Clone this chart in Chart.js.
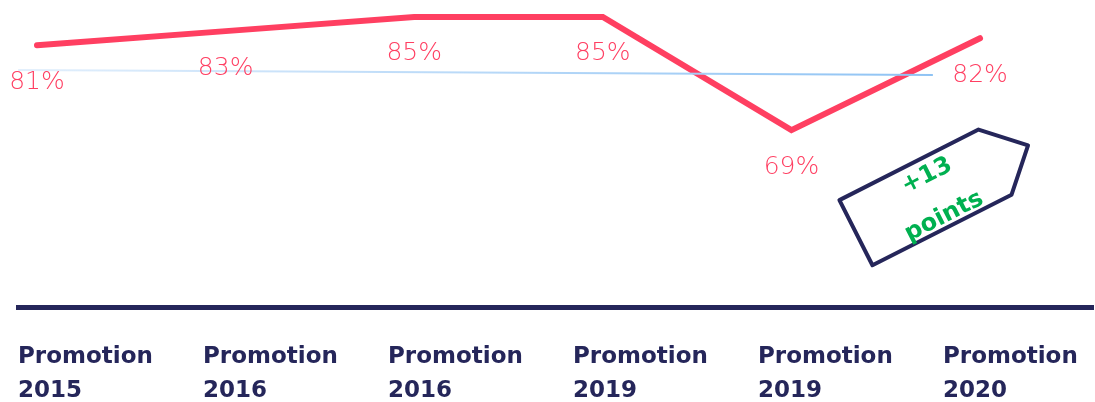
<!DOCTYPE html>
<html>
<head>
<meta charset="utf-8">
<script src="https://cdn.jsdelivr.net/npm/chart.js@4.4.0/dist/chart.umd.min.js"></script>
<style>
  html, body { margin: 0; padding: 0; background: #fff; overflow: hidden; }
  #wrap { width: 1095px; height: 412px; }
</style>
</head>
<body>
<div id="wrap"><canvas id="chart"></canvas></div>
<script>
// data
const promotions = [
  ['Promotion', '2015'],
  ['Promotion', '2016'],
  ['Promotion', '2016'],
  ['Promotion', '2019'],
  ['Promotion', '2019'],
  ['Promotion', '2020']
];
const rates = [81, 83, 85, 85, 69, 82];
const trendX = [-0.1, 4.75];
const trendY = [77.5, 76.8];
const tagText = ['+13', 'points'];

const navy = '#25265a';
const red = '#ff3f61';
const pink = '#ff3f62';
const green = '#00b050';

// percent labels under each point
const valueLabels = {
  id: 'valueLabels',
  afterDatasetsDraw(chart) {
    const c = chart.ctx;
    const meta = chart.getDatasetMeta(1);
    c.save();
    c.font = '300 25px "DejaVu Sans"';
    c.fillStyle = pink;
    c.textAlign = 'center';
    c.textBaseline = 'middle';
    meta.data.forEach((pt, i) => {
      c.fillText(rates[i] + '%', pt.x, pt.y + 37);
    });
    c.restore();
  }
};

// the "+13 points" tag
const tagBox = {
  id: 'tagBox',
  afterDraw(chart) {
    const c = chart.ctx;
    const xs = chart.scales.x, ys = chart.scales.y;
    const ox = xs.getPixelForValue(4) + 48;
    const oy = ys.getPixelForValue(69) + 70;
    c.save();
    c.translate(ox, oy);
    c.rotate(-26.9 * Math.PI / 180);
    c.beginPath();
    c.moveTo(0, 0);
    c.lineTo(156, 0);
    c.lineTo(193, 36.5);
    c.lineTo(156, 73);
    c.lineTo(0, 73);
    c.closePath();
    c.lineWidth = 4;
    c.lineJoin = 'round';
    c.strokeStyle = navy;
    c.stroke();
    c.fillStyle = green;
    c.font = 'bold 24px "DejaVu Sans"';
    c.textAlign = 'center';
    c.textBaseline = 'middle';
    c.fillText(tagText[0], 89, 18);
    c.fillText(tagText[1], 86, 62);
    c.restore();
  }
};

const ctx = document.getElementById('chart');
new Chart(ctx, {
  type: 'line',
  data: {
    datasets: [
      {
        data: trendX.map((x, i) => ({ x: x, y: trendY[i] })),
        borderColor: (context) => {
          const area = context.chart.chartArea;
          if (!area) return '#b8daf7';
          const g = context.chart.ctx.createLinearGradient(area.left, 0, area.right, 0);
          g.addColorStop(0, '#e2effc');
          g.addColorStop(1, '#80bbf2');
          return g;
        },
        borderWidth: 2,
        pointRadius: 0,
        xAxisID: 'x',
        yAxisID: 'y'
      },
      {
        data: rates.map((v, i) => ({ x: i, y: v })),
        borderColor: red,
        borderWidth: 6,
        borderCapStyle: 'round',
        borderJoinStyle: 'miter',
        pointRadius: 0,
        tension: 0,
        xAxisID: 'x',
        yAxisID: 'y'
      }
    ]
  },
  options: {
    responsive: true,
    maintainAspectRatio: false,
    animation: false,
    devicePixelRatio: 1,
    layout: { padding: { left: 18, right: 2, top: 0, bottom: 0 } },
    plugins: {
      legend: { display: false },
      tooltip: { enabled: false }
    },
    scales: {
      x: {
        type: 'linear',
        display: false,
        min: -0.1007,
        max: 5.599
      },
      xl: {
        type: 'linear',
        position: 'bottom',
        min: 0,
        max: 5.811,
        afterBuildTicks: (axis) => {
          axis.ticks = promotions.map((p, i) => ({ value: i }));
        },
        afterFit: (axis) => {
          axis.height = 105;
          axis.paddingLeft = 0;
          axis.paddingRight = 0;
        },
        grid: { display: false, drawTicks: false },
        border: { display: true, color: navy, width: 5 },
        ticks: {
          autoSkip: false,
          maxRotation: 0,
          align: 'start',
          padding: 33,
          color: navy,
          font: { family: 'DejaVu Sans', weight: 'bold', size: 23, lineHeight: 1.48 },
          callback: (v) => promotions[v]
        }
      },
      y: {
        display: false,
        min: 44,
        max: 87.4
      }
    }
  },
  plugins: [valueLabels, tagBox]
});
</script>
</body>
</html>
